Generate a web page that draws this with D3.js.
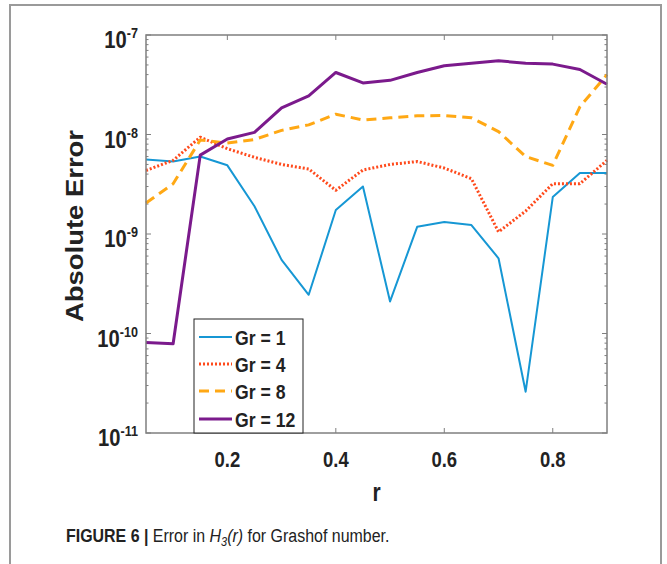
<!DOCTYPE html>
<html>
<head>
<meta charset="utf-8">
<script src="https://cdn.jsdelivr.net/npm/d3@7"></script>
<style>
  html, body { margin: 0; padding: 0; background: #fff; }
  svg { display: block; font-family: "Liberation Sans", Arial, sans-serif; }
</style>
</head>
<body>
<svg id="chart" width="667" height="564"></svg>
<script>
// Radial positions and absolute error of H3(r) for each Grashof number
const rValues = [0.05, 0.1, 0.15, 0.2, 0.25, 0.3, 0.35, 0.4, 0.45, 0.5, 0.55, 0.6, 0.65, 0.7, 0.75, 0.8, 0.85, 0.9];
const errGr1 = [5.6e-9, 5.35e-9, 6.0e-9, 4.9e-9, 1.9e-9, 5.5e-10, 2.45e-10, 1.74e-9, 3.0e-9, 2.1e-10, 1.18e-9, 1.32e-9, 1.23e-9, 5.7e-10, 2.6e-11, 2.35e-9, 4.1e-9, 4.1e-9];
const errGr4 = [4.35e-9, 5.5e-9, 9.4e-9, 7.2e-9, 5.9e-9, 5.0e-9, 4.5e-9, 2.75e-9, 4.4e-9, 5.0e-9, 5.35e-9, 4.6e-9, 3.6e-9, 1.05e-9, 1.7e-9, 3.2e-9, 3.2e-9, 5.5e-9];
const errGr8 = [2.05e-9, 3.2e-9, 8.8e-9, 8.2e-9, 8.9e-9, 1.1e-8, 1.25e-8, 1.6e-8, 1.4e-8, 1.47e-8, 1.54e-8, 1.55e-8, 1.47e-8, 1.07e-8, 6.0e-9, 4.9e-9, 1.9e-8, 4.0e-8];
const errGr12 = [8.1e-11, 7.9e-11, 6.2e-9, 9.0e-9, 1.05e-8, 1.85e-8, 2.45e-8, 4.2e-8, 3.3e-8, 3.5e-8, 4.2e-8, 4.9e-8, 5.2e-8, 5.5e-8, 5.2e-8, 5.1e-8, 4.5e-8, 3.2e-8];

const seriesNames = ["Gr = 1", "Gr = 4", "Gr = 8", "Gr = 12"];
const xTicks = [0.2, 0.4, 0.6, 0.8];
const yDecades = [-11, -10, -9, -8, -7];

const series = [
  { name: seriesNames[0], values: errGr1, color: "#1697d4", width: 2, dash: null },
  { name: seriesNames[1], values: errGr4, color: "#ff4a1c", width: 3, dash: "2,2" },
  { name: seriesNames[2], values: errGr8, color: "#ffa814", width: 3, dash: "10,6" },
  { name: seriesNames[3], values: errGr12, color: "#7b1a8c", width: 3, dash: null }
];

const svg = d3.select("#chart");
const ink = "#222";
const squeeze = 0.84; // narrow, tall lettering

// Places a horizontally condensed text element at (px, py)
function narrowText(parent, px, py, size, anchor) {
  return parent.append("g")
    .attr("transform", `translate(${px},${py}) scale(${squeeze},1)`)
    .append("text")
    .attr("x", 0).attr("y", 0)
    .attr("font-size", size)
    .attr("text-anchor", anchor || "start")
    .attr("fill", ink);
}

// Outer figure frame
svg.append("rect")
  .attr("x", 10).attr("y", 5).attr("width", 651).attr("height", 620)
  .attr("fill", "none").attr("stroke", "#9a9a9a").attr("stroke-width", 2);

const plot = { left: 146, right: 607, top: 35, bottom: 433 };

const x = d3.scaleLinear().domain([0.05, 0.9]).range([plot.left, plot.right]);
const y = d3.scaleLog().domain([1e-11, 1e-7]).range([plot.bottom, plot.top]);

const axisColor = "#7f7f7f";

// Minor and major ticks, pointing inward on all four sides
const g = svg.append("g").attr("stroke", axisColor).attr("stroke-width", 1);
const minorVals = [];
for (let e = -11; e < -7; e++) {
  for (let m = 2; m <= 9; m++) minorVals.push(m * Math.pow(10, e));
}
const majorY = yDecades.map(e => Math.pow(10, e));
[[minorVals, 2.5], [majorY, 5]].forEach(([vals, len]) => {
  g.append("g").selectAll("line").data(vals).join("line")
    .attr("x1", plot.left).attr("x2", plot.left + len)
    .attr("y1", d => y(d)).attr("y2", d => y(d));
  g.append("g").selectAll("line").data(vals).join("line")
    .attr("x1", plot.right).attr("x2", plot.right - len)
    .attr("y1", d => y(d)).attr("y2", d => y(d));
});
g.append("g").selectAll("line").data(xTicks).join("line")
  .attr("x1", d => x(d)).attr("x2", d => x(d))
  .attr("y1", plot.bottom).attr("y2", plot.bottom - 5);
g.append("g").selectAll("line").data(xTicks).join("line")
  .attr("x1", d => x(d)).attr("x2", d => x(d))
  .attr("y1", plot.top).attr("y2", plot.top + 5);

// Series lines
const line = d3.line().x((d, i) => x(rValues[i])).y(d => y(d));
svg.append("g").selectAll("path").data(series).join("path")
  .attr("d", d => line(d.values))
  .attr("fill", "none")
  .attr("stroke", d => d.color)
  .attr("stroke-width", d => d.width)
  .attr("stroke-dasharray", d => d.dash)
  .attr("stroke-linejoin", "round");

// Axes box
svg.append("rect")
  .attr("x", plot.left).attr("y", plot.top)
  .attr("width", plot.right - plot.left).attr("height", plot.bottom - plot.top)
  .attr("fill", "none").attr("stroke", axisColor).attr("stroke-width", 1.5);

// Y tick labels as powers of ten
yDecades.forEach(e => {
  const t = narrowText(svg, 138, y(Math.pow(10, e)) + 13, 24, "end")
    .attr("font-weight", "bold");
  t.append("tspan").text("10");
  t.append("tspan").attr("dy", -10).attr("font-size", 15).text(String(e));
});

// X tick labels
xTicks.forEach(v => {
  narrowText(svg, x(v), 467, 22, "middle")
    .attr("font-weight", "bold")
    .text(v.toFixed(1));
});

// Axis titles
narrowText(svg, x(0.475), 501, 25, "middle")
  .attr("font-weight", "bold")
  .text("r");
svg.append("text")
  .attr("transform", "translate(83,226) rotate(-90)")
  .attr("text-anchor", "middle")
  .attr("font-size", 23).attr("font-weight", "bold").attr("fill", ink)
  .attr("textLength", 192).attr("lengthAdjust", "spacingAndGlyphs")
  .text("Absolute Error");

// Legend
const leg = { x: 194, y: 319, w: 109, h: 114 };
const legend = svg.append("g");
legend.append("rect")
  .attr("x", leg.x).attr("y", leg.y).attr("width", leg.w).attr("height", leg.h)
  .attr("fill", "#fff").attr("stroke", ink).attr("stroke-width", 1);
const rowY = [337, 364, 391, 419];
series.forEach((s, i) => {
  legend.append("line")
    .attr("x1", 199).attr("x2", 232)
    .attr("y1", rowY[i]).attr("y2", rowY[i])
    .attr("stroke", s.color).attr("stroke-width", s.width)
    .attr("stroke-dasharray", s.dash);
  narrowText(legend, 235, rowY[i] + 7.5, 21)
    .attr("font-weight", "bold")
    .text(s.name);
});

// Caption
const cap = narrowText(svg, 66, 542, 19);
cap.append("tspan").attr("font-weight", "bold").text("FIGURE 6 | ");
cap.append("tspan").text("Error in ");
cap.append("tspan").attr("font-style", "italic").text("H");
cap.append("tspan").attr("font-style", "italic").attr("font-size", 13).attr("dy", 4).text("3");
cap.append("tspan").attr("font-style", "italic").attr("dy", -4).text("(r)");
cap.append("tspan").text(" for Grashof number.");
</script>
</body>
</html>
